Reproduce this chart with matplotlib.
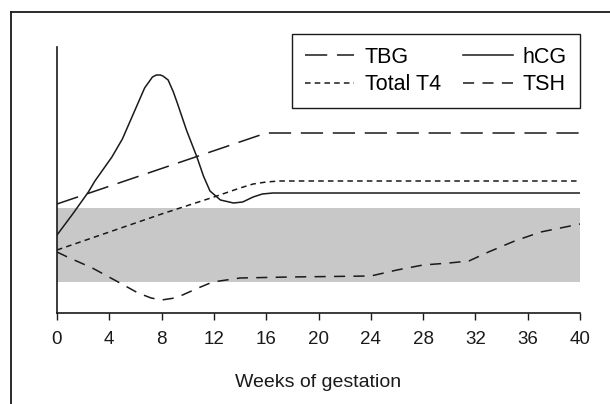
import matplotlib
matplotlib.use("Agg")
import matplotlib.pyplot as plt
from matplotlib.lines import Line2D

plt.rcParams['font.family'] = ['Liberation Sans', 'DejaVu Sans']
plt.rcParams['lines.scale_dashes'] = False

# Datos (unidades arbitrarias, eje y sin escala)
semanas_tbg = [0, 16, 40]
tbg = [109, 180, 180]

semanas_t4 = [0, 4, 8, 12, 14, 15, 16, 17, 40]
total_t4 = [63, 81, 99, 116, 125, 129, 131, 132, 132]

semanas_hcg = [0, 1.2, 2.4, 2.9, 4.2, 5.0, 6.0, 6.7, 7.3, 7.6, 7.9, 8.1, 8.5,
               8.9, 9.2, 9.9, 10.7, 11.2, 11.7, 12.5, 13.5, 14.2, 15.0, 15.7,
               16.5, 40]
hcg = [78, 99, 121, 132, 156, 174, 204, 225, 236, 238, 238, 237, 233,
       221, 210, 183, 156, 137, 122, 113, 110, 111, 116, 119,
       120, 120]

semanas_tsh = [0, 0.8, 2.7, 4.4, 6.2, 7.2, 8.0, 9.0, 9.6, 10.8, 11.9, 14,
               17.8, 24, 26, 28, 30, 31.5, 33, 35, 37, 40]
tsh = [61, 56, 45, 33, 20, 15, 13, 15, 18, 25, 31, 35,
       36, 37, 43, 48, 50, 52, 61, 72, 81, 89]

banda_normal = (31, 105)
ticks_x = list(range(0, 41, 4))

fig = plt.figure(figsize=(6.10, 4.04), dpi=100)
ax = fig.add_axes([57 / 610, 91 / 404, 523 / 610, 266 / 404])

color = "#1a1a1a"
ax.axhspan(banda_normal[0], banda_normal[1], color="#c8c8c9", lw=0, zorder=0)

l_tbg, = ax.plot(semanas_tbg, tbg, color=color, lw=1.1, dashes=(16, 7), label="TBG")
l_t4, = ax.plot(semanas_t4, total_t4, color=color, lw=1.1, dashes=(4, 3), label="Total T4")
l_hcg, = ax.plot(semanas_hcg, hcg, color=color, lw=1.1, label="hCG",
                 solid_joinstyle='round')
l_tsh, = ax.plot(semanas_tsh, tsh, color=color, lw=1.1, dashes=(8, 6), label="TSH")

ax.set_xlim(0, 40)
ax.set_ylim(0, 266)
ax.set_xticks(ticks_x)
ax.set_yticks([])
ax.tick_params(axis='x', direction='out', length=5, width=1, labelsize=13.5,
               colors=color, pad=8)
ax.spines['top'].set_visible(False)
ax.spines['right'].set_visible(False)
ax.spines['left'].set_linewidth(1.2)
ax.spines['bottom'].set_linewidth(1.2)
ax.spines['left'].set_color(color)
ax.spines['bottom'].set_color(color)
ax.set_xlabel("Weeks of gestation", fontsize=14, color=color, labelpad=19)

leg = ax.legend([l_tbg, l_t4, l_hcg, l_tsh], ["TBG", "Total T4", "hCG", "TSH"],
                ncol=2, loc="upper right", bbox_to_anchor=(1.0, 1.049),
                fontsize=15.5, handlelength=2.3, handletextpad=0.47,
                labelspacing=0.3, borderpad=0.6, borderaxespad=0,
                fancybox=False, framealpha=1, edgecolor=color,
                columnspacing=1.05)
leg.get_frame().set_linewidth(1.0)

# marco exterior de la figura
fig.add_artist(Line2D([11 / 610, 11 / 610], [0, 1 - 12 / 404], color=color, lw=1.3))
fig.add_artist(Line2D([11 / 610, 1], [1 - 12 / 404, 1 - 12 / 404], color=color, lw=1.3))

fig.savefig("out.png", dpi=100)
